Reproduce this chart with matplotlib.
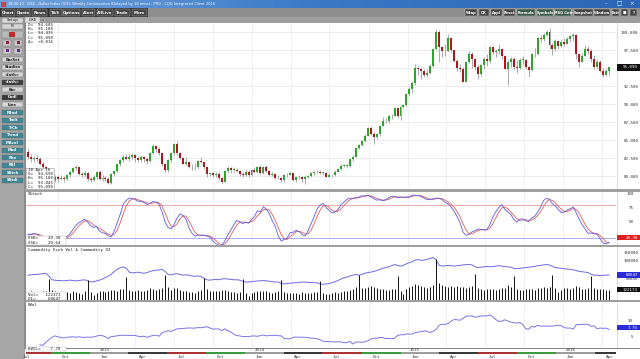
import numpy as np
import pandas as pd
import matplotlib
matplotlib.use("Agg")
import matplotlib.pyplot as plt
from matplotlib.patches import Rectangle
from matplotlib.colors import LinearSegmentedColormap
import matplotlib.transforms as mtrans

W, H = 640, 359
MONO = "DejaVu Sans Mono"

# ---------------- data (weekly bars, Monday labels) ----------------
start_monday = "2012-07-23"
first_open = 83.4

closes_2012 = [82.7, 82.4, 82.5, 82.3, 81.7, 81.2, 80.2, 79.0, 79.4, 79.9, 79.6, 79.7, 79.6, 80.1, 80.6, 81.1,
               81.2, 80.3, 80.1, 80.4, 79.6, 79.5, 79.8]
closes_2013 = [80.5, 79.6, 79.7, 79.6, 79.0, 80.3, 80.7, 81.6, 82.2, 82.7, 82.4, 82.6, 82.9, 82.5, 82.2, 82.6,
               82.3, 82.1, 83.2, 84.2, 83.7, 83.2, 81.6, 80.8, 82.2, 83.2, 84.5, 83.2, 82.5, 81.7, 82.0, 81.3,
               81.2, 81.3, 82.1, 82.0, 81.3, 80.3, 80.4, 80.1, 80.3, 79.7, 79.2, 80.7, 81.1, 80.9, 80.9, 80.7,
               80.3, 80.2, 80.6, 80.1]
closes_2014 = [80.8, 80.6, 81.2, 80.4, 81.3, 80.7, 80.2, 80.3, 79.7, 79.7, 79.4, 80.1, 80.2, 80.4, 79.4, 79.8,
               79.8, 79.6, 79.9, 80.0, 80.4, 80.5, 80.6, 80.4, 80.4, 79.9, 80.2, 80.1, 80.6, 81.0, 81.4, 81.4,
               81.4, 82.3, 82.7, 83.9, 84.3, 84.8, 85.6, 86.7, 85.9, 85.4, 85.8, 87.0, 87.6, 87.6, 88.3, 88.4,
               89.4, 88.3, 89.6, 89.8]
closes_2015 = [91.4, 92.1, 92.9, 95.0, 94.8, 94.6, 94.0, 94.3, 95.3, 97.6, 100.0, 97.9, 97.3, 97.4, 99.2, 97.5,
               96.0, 95.0, 94.8, 93.1, 95.9, 96.9, 96.2, 95.2, 94.1, 95.4, 96.2, 96.0, 97.9, 97.2, 97.3, 97.6,
               96.6, 94.9, 95.9, 96.2, 95.1, 95.0, 96.1, 96.1, 95.2, 94.7, 96.9, 96.9, 99.2, 99.0, 99.6, 100.0,
               98.2, 97.6, 98.7, 98.0]
closes_2016 = [98.6, 98.4, 99.0, 99.5, 99.6, 97.0, 95.9, 96.6, 97.6, 97.3, 96.2, 95.1, 95.9, 94.6, 94.0, 94.6,
               95.09]

highs_2012 = [83.8, 83.0, 82.8, 82.9, 82.6, 81.9, 81.4, 80.5, 79.6, 80.2, 80.1, 80.1, 80.0, 80.3, 80.9, 81.3,
              81.5, 81.3, 80.6, 80.7, 80.5, 79.9, 80.2]
highs_2013 = [80.7, 80.9, 80.1, 80.0, 79.8, 80.4, 80.9, 81.7, 82.4, 83.0, 83.0, 83.0, 83.2, 83.1, 82.8, 82.9,
              82.8, 82.6, 83.4, 84.5, 84.3, 84.0, 83.4, 81.7, 82.4, 83.3, 84.6, 84.8, 83.4, 82.6, 82.6, 82.1,
              81.6, 81.8, 82.2, 82.6, 82.0, 81.4, 80.6, 80.6, 80.6, 80.5, 79.8, 80.8, 81.4, 81.2, 81.3, 81.1,
              80.9, 80.5, 80.9, 80.8]
highs_2014 = [81.0, 81.2, 81.3, 81.5, 81.4, 81.5, 80.8, 80.6, 80.4, 80.2, 79.8, 80.3, 80.4, 80.6, 80.5, 79.9,
              80.1, 80.0, 80.1, 80.2, 80.5, 80.7, 80.9, 80.8, 80.6, 80.5, 80.4, 80.3, 80.8, 81.1, 81.6, 81.7,
              81.7, 82.4, 82.9, 84.0, 84.5, 85.0, 85.9, 86.8, 86.9, 86.1, 86.0, 87.1, 88.2, 88.1, 88.5, 88.6,
              89.6, 89.6, 89.7, 90.0]
highs_2015 = [91.5, 92.3, 93.2, 95.5, 95.3, 95.0, 94.9, 94.8, 95.5, 97.8, 100.4, 100.3, 98.0, 98.4, 99.7, 99.3,
              97.5, 96.2, 95.5, 95.1, 96.0, 97.3, 97.2, 96.4, 95.5, 95.6, 96.5, 97.0, 98.0, 98.1, 97.7, 98.3,
              97.7, 96.8, 96.1, 96.5, 96.5, 96.1, 96.4, 96.7, 96.3, 95.3, 97.1, 97.8, 99.3, 99.6, 99.9, 100.3,
              100.5, 98.5, 99.0, 98.8]
highs_2016 = [99.0, 99.1, 99.3, 99.6, 99.9, 99.7, 97.1, 97.1, 98.2, 98.0, 97.7, 96.8, 96.3, 96.1, 95.0, 94.9,
              95.18]

lows_2012 = [82.3, 81.9, 82.0, 82.0, 81.5, 80.9, 79.9, 78.6, 78.8, 79.2, 79.2, 79.4, 79.2, 79.4, 79.9, 80.4,
             80.8, 80.1, 79.8, 79.9, 79.3, 79.2, 79.3]
lows_2013 = [79.6, 79.4, 79.3, 79.3, 78.9, 78.9, 80.0, 80.5, 81.4, 82.0, 82.2, 82.1, 82.4, 82.0, 81.9, 81.9,
             82.0, 81.6, 81.9, 83.0, 83.3, 82.9, 81.4, 80.5, 80.6, 81.9, 82.9, 82.9, 82.3, 81.6, 81.5, 81.1,
             80.9, 80.9, 81.0, 81.8, 81.0, 79.9, 80.0, 79.9, 79.9, 79.5, 79.0, 79.1, 80.4, 80.4, 80.6, 80.5,
             80.0, 79.8, 80.0, 79.9]
lows_2014 = [80.0, 80.4, 80.4, 80.3, 80.3, 80.5, 80.0, 80.0, 79.6, 79.6, 79.2, 79.2, 79.9, 80.1, 79.3, 79.2,
             79.6, 79.2, 78.9, 79.7, 79.8, 80.2, 80.4, 80.3, 80.1, 79.8, 79.8, 79.9, 80.0, 80.5, 80.9, 81.2,
             81.1, 81.3, 82.1, 82.6, 83.7, 84.1, 84.7, 85.5, 85.7, 84.5, 85.2, 85.6, 86.9, 87.3, 87.4, 87.9,
             88.3, 88.1, 87.8, 89.5]
lows_2015 = [89.7, 91.1, 91.6, 92.7, 94.0, 93.5, 93.8, 93.7, 94.2, 95.2, 97.5, 95.8, 96.5, 96.7, 97.2, 97.2,
             95.8, 94.6, 94.4, 93.0, 93.0, 95.7, 95.0, 94.7, 93.5, 93.9, 94.9, 95.3, 95.7, 96.9, 96.5, 97.0,
             96.3, 94.8, 92.6, 95.2, 94.9, 94.3, 94.9, 95.6, 94.9, 93.8, 94.6, 96.5, 96.8, 98.6, 98.8, 99.4,
             97.7, 96.8, 97.3, 97.6]
lows_2016 = [97.9, 98.0, 98.3, 98.6, 98.8, 96.3, 95.2, 95.8, 96.6, 96.9, 95.8, 94.8, 94.9, 94.4, 93.8, 93.9,
             93.85]

volume_k = [95, 110, 85, 80, 90, 100, 105, 240, 120, 100, 95, 90, 88, 92, 85, 100, 95, 80, 70, 105, 230, 90, 55,
            85, 110, 100, 95, 105, 120, 115, 110, 125, 130, 270, 120, 110, 105, 115, 110, 100, 120, 140, 130,
            115, 125, 140, 290, 150, 120, 135, 140, 120, 105, 100, 95, 90, 85, 110, 120, 260, 130, 110, 100,
            105, 110, 120, 115, 100, 95, 90, 85, 95, 240, 80, 50,
            80, 95, 100, 110, 105, 100, 90, 85, 95, 100, 230, 95, 85, 80, 85, 80, 75, 90, 85, 80, 85, 90, 95,
            220, 85, 70, 75, 80, 90, 85, 95, 100, 105, 120, 130, 150, 290, 140, 145, 150, 160, 150, 135, 125,
            130, 120, 115, 125, 130, 280, 110, 70,
            130, 150, 160, 190, 170, 160, 150, 140, 150, 180, 480, 200, 170, 160, 150, 165, 150, 160, 155, 150,
            140, 150, 160, 300, 145, 130, 120, 125, 130, 125, 120, 130, 140, 135, 170, 150, 280, 130, 120, 115,
            125, 130, 125, 120, 135, 140, 150, 145, 150, 290, 140, 90,
            120, 135, 140, 130, 145, 160, 150, 130, 125, 135, 280, 140, 130, 125, 130, 120, 122.173]

oi_k = [60, 61, 62, 62, 63, 64, 65, 58, 48, 47, 46, 46, 45, 46, 47, 46, 45, 46, 47, 48, 45, 42, 43,
        45, 47, 50, 54, 58, 63, 70, 76, 80, 82, 78, 68, 66, 67, 68, 66, 65, 67, 70, 72, 73, 74, 75, 70, 62, 61,
        63, 64, 62, 60, 61, 60, 58, 57, 58, 57, 52, 48, 47, 48, 49, 48, 50, 51, 50, 49, 48, 48, 47, 44, 42, 42,
        43, 44, 45, 45, 46, 45, 44, 43, 42, 42, 38, 37, 38, 39, 40, 40, 41, 42, 42, 41, 41, 40, 40, 37, 36, 37,
        38, 40, 43, 46, 50, 53, 55, 58, 60, 62, 60, 62, 65, 67, 68, 70, 72, 75, 78, 80, 82, 85, 88, 86, 84, 86,
        90, 93, 96, 100, 101, 99, 100, 102, 104, 107, 100, 86, 84, 85, 86, 85, 84, 85, 86, 87, 88, 88, 87, 82,
        80, 81, 82, 83, 82, 83, 84, 85, 84, 83, 82, 81, 78, 77, 78, 79, 80, 81, 82, 83, 85, 86, 87, 88, 87, 83,
        80, 79,
        78, 77, 76, 75, 74, 72, 70, 69, 68, 67, 62, 60, 60, 59, 60, 60, 60.647]

# readouts shown in the reference
last_ssk, last_ssd, last_hvol = 20.30, 20.64, 7.70
main_ticks = [80.0, 82.5, 85.0, 87.5, 90.0, 92.5, 97.5, 100.0]
stoch_ticks = [50, 75, 100]
hvol_ticks = [5, 10]
quarter_names = {1: "Jan", 4: "Apr", 7: "Jul", 10: "Oct"}

closes = closes_2012 + closes_2013 + closes_2014 + closes_2015 + closes_2016
highs = highs_2012 + highs_2013 + highs_2014 + highs_2015 + highs_2016
lows = lows_2012 + lows_2013 + lows_2014 + lows_2015 + lows_2016
n = len(closes)
assert n == len(highs) == len(lows) == len(volume_k) == len(oi_k) == 196

c = np.array(closes)
o = np.concatenate([[first_open], c[:-1]])
h = np.maximum(np.array(highs), np.maximum(o, c))
l = np.minimum(np.array(lows), np.minimum(o, c))
idx = np.arange(n)
dates = pd.date_range(start_monday, periods=n, freq="W-MON")
t0 = dates[0]

# indicators computed from the bars
cs, hs, ls = pd.Series(c), pd.Series(h), pd.Series(l)
hh = hs.rolling(14, min_periods=1).max()
ll = ls.rolling(14, min_periods=1).min()
fast = 100 * (cs - ll) / (hh - ll)
ssk = fast.rolling(5, min_periods=1).mean()
ssd = ssk.rolling(3, min_periods=1).mean()
lr = np.log(cs).diff()
hvol = lr.rolling(20, min_periods=4).std() * np.sqrt(52) * 100

# ---------------- figure ----------------
fig = plt.figure(figsize=(W / 100, H / 100), dpi=100)
bg = fig.add_axes([0, 0, 1, 1], zorder=0)
bg.axis("off")


def box(ax, x0, y0, x1, y1, fc, ec="none", lw=0, z=1):
    ax.add_patch(Rectangle((x0, y0), x1 - x0, y1 - y0, facecolor=fc, edgecolor=ec, linewidth=lw, zorder=z))


def txt(ax, x, y, s, size=3.1, color="#1a1a1a", ha="left", va="center", fam=MONO, z=5, weight="normal"):
    ax.text(x, y, s, fontsize=size, color=color, ha=ha, va=va, family=fam, zorder=z, fontweight=weight)


box(bg, 0, 0, W, H, "#a6a6a6", z=0)
grad = LinearSegmentedColormap.from_list("g", ["#6fa3dd", "#3a78c6", "#2c66b5"])
bg.imshow(np.linspace(0, 1, 100).reshape(1, -1), extent=(0, W, 8, 0), cmap=grad, aspect="auto", zorder=1)
box(bg, 1, 1.5, 6, 6.5, "#d04040", z=2)
txt(bg, 8, 4, "18:36:12   DXE - Dollar Index (ICE), Weekly Continuation (Delayed by 10 mins) - PRO - CQG Integrated Client 2016",
    size=2.6, color="white", fam="DejaVu Sans")
for xx, s in [(606, "\u2013"), (619, "\u25a1"), (632, "\u00d7")]:
    txt(bg, xx, 3.8, s, size=4, color="white", ha="center", fam="DejaVu Sans")

# toolbar
box(bg, 0, 8, W, 17, "#8e8e8e", z=1)
box(bg, 0, 8, 148, 17, "#2f2f2f", z=1)
left_btns = [("Chart", 2, 15), ("Quote", 17, 30), ("News", 32, 47), ("T&S", 50, 62), ("Options", 63, 80),
             ("Alert", 82, 95), ("AllLive", 97, 113), ("Trade", 115, 130), ("More", 132, 147)]
for s, a, b in left_btns:
    box(bg, a, 9.3, b, 15.8, "#454545", ec="#b8b8b8", lw=0.3, z=2)
    txt(bg, (a + b) / 2, 12.6, s, size=2.9, color="white", ha="center", fam="DejaVu Sans", weight="bold")
right_btns = [("Wrap", 465, 477), ("OK", 479, 489), ("Appl", 491, 502), ("Reset", 504, 515), ("Formula", 517, 535),
              ("Symbols", 537, 553), ("MSG Cntr", 555, 571), ("Snapshot", 574, 593), ("Window", 594, 610),
              ("Exit", 612, 619), ("\u25a0", 621, 628), ("?", 630, 637)]
for s, a, b in right_btns:
    fc = "#3c5a4a" if s in ("Formula", "Symbols", "MSG Cntr") else "#454545"
    box(bg, a, 9.3, b, 15.8, fc, ec="#c8c8c8", lw=0.3, z=2)
    txt(bg, (a + b) / 2, 12.6, s, size=2.6, color="white", ha="center", fam="DejaVu Sans", weight="bold")

# tab row
box(bg, 0, 17, W, 23, "#9d9d9d", z=1)
box(bg, 2, 17.6, 23, 22.6, "#d9d9d9", ec="#7a7a7a", lw=0.3, z=2)
txt(bg, 12.5, 20.1, "Setup", size=2.9, ha="center", fam="DejaVu Sans")
box(bg, 25, 17.2, 40, 23, "#dcdcdc", ec="#7a7a7a", lw=0.3, z=2)
txt(bg, 32.5, 20.1, "DXE", size=2.9, ha="center", fam="DejaVu Sans")
box(bg, 41, 18.2, 46, 22.2, "#b4b4b4", ec="#7a7a7a", lw=0.3, z=2)
txt(bg, 43.5, 20.1, "x", size=2.8, ha="center", fam="DejaVu Sans")

# left button column
box(bg, 2, 23.5, 23, 28.5, "#d4d4d4", ec="#7a7a7a", lw=0.3, z=2)
txt(bg, 12.5, 26, "IB", size=2.8, ha="center", fam="DejaVu Sans")
box(bg, 2, 31, 23, 38, "#b9b9b9", ec="#7a7a7a", lw=0.3, z=2)
box(bg, 9, 32.2, 15, 36.8, "#c02828", z=3)
for yy, col in [(40, "#8a1e3a"), (48, "#6a2a8a")]:
    for a in (3, 14):
        box(bg, a, yy, a + 8, yy + 5.5, "#c9c9c9", ec="#707070", lw=0.3, z=2)
        box(bg, a + 2.5, yy + 1.2, a + 5.5, yy + 4.3, col, z=3)
side = [("BarSet", 57, "light"), ("Studies", 64.5, "light"), ("<Inth>", 72, "light"), ("<Inth>", 79.5, "dark"),
        ("Bar", 87, "light"), ("Cndl", 94.5, "dark"), ("Line", 102, "light"),
        ("FBnd", 110, "teal"), ("TmIt", 117.5, "teal"), ("TrCh", 125, "teal"), ("Trend", 132.5, "teal"),
        ("MAvol", 140, "teal"), ("Mod", 147.5, "teal"), ("Pbo", 155, "teal"), ("RSI", 162.5, "teal"),
        ("SStch", 170, "teal"), ("SStdi", 177.5, "teal")]
styles = {"light": ("#d6d6d6", "#1a1a1a"), "dark": ("#3a3a3a", "#ffffff"), "teal": ("#3f8797", "#ffffff")}
for s, yy, st in side:
    fc, tc = styles[st]
    box(bg, 2, yy, 23, yy + 5.2, fc, ec="#6a6a6a", lw=0.3, z=2)
    txt(bg, 12.5, yy + 2.6, s, size=2.7, color=tc, ha="center", fam="DejaVu Sans", weight="bold")

# chart window
box(bg, 25, 23, W, 348, "white", z=1)
box(bg, 24, 23, 26, 349, "#8c8c8c", z=2)
for a, b in [(189, 192), (245, 247), (300, 302)]:
    box(bg, 25, a, W, b, "#9f9f9f", z=2)
box(bg, 25, 348, W, 349, "#8a8a8a", z=2)
box(bg, 25, 349, W, H, "white", z=1)
bg.plot([616.5, 616.5], [23, 348], color="#9a9a9a", lw=0.5, ls=(0, (1, 1)), zorder=2)
bg.set_xlim(0, W)
bg.set_ylim(H, 0)

# ---------------- data axes ----------------
PX0, PX1 = 26, 616
X0 = 28.0
DX = 2.98
xlim = ((PX0 - X0) / DX, (PX1 - X0) / DX)


def px_axes(y0, y1, ylim, z=1):
    ax = fig.add_axes([PX0 / W, 1 - y1 / H, (PX1 - PX0) / W, (y1 - y0) / H], zorder=z)
    ax.patch.set_alpha(0)
    for s in ax.spines.values():
        s.set_visible(False)
    ax.set_xlim(*xlim)
    ax.set_ylim(*ylim)
    ax.tick_params(left=False, bottom=False, right=False, labelleft=False, labelbottom=False)
    return ax


def right_labels(ax, ticks, labels, right_px):
    ax.yaxis.tick_right()
    ax.set_yticks(ticks)
    ax.set_yticklabels(labels, fontsize=3.0, family=MONO, color="#303030")
    ax.tick_params(axis="y", right=False, labelright=True, length=0, pad=(right_px - PX1) * 0.72)
    for t in ax.get_yticklabels():
        t.set_ha("right")


def value_box(ax, value, label, fc, half_px=2.8, tc="white"):
    y0, y1 = ax.get_ylim()
    hpx = ax.get_position().height * H
    upp = (y1 - y0) / hpx
    tr = mtrans.blended_transform_factory(ax.transAxes, ax.transData)
    wfrac = (W - PX1 - 0.5) / (PX1 - PX0)
    ax.add_patch(Rectangle((1.0 + 0.6 / (PX1 - PX0), value - half_px * upp), wfrac, 2 * half_px * upp,
                           transform=tr, facecolor=fc, edgecolor="none", clip_on=False, zorder=6))
    ax.text(1.0 + (W - PX1 - 2) / (PX1 - PX0), value, label, transform=tr, fontsize=3.0, family=MONO,
            color=tc, ha="right", va="center", zorder=7, clip_on=False)


quarters = pd.date_range("2012-07-01", "2016-07-01", freq="QS")
qpos = np.array([(q - t0).days / 7.0 for q in quarters])

# main price panel
axm = px_axes(23, 189, (80 - 13 / 7.2, 100 + 9 / 7.2))
for v in np.arange(80, 100.1, 2.5):
    axm.axhline(v, color="#e3e3e3", lw=0.5, zorder=0)
up = c >= o
body_lo = np.minimum(o, c)
body_h = np.maximum(np.abs(c - o), 0.09)
axm.vlines(idx, l, h, color="#8a8a8a", lw=0.5, zorder=2)
axm.bar(idx[up], body_h[up], bottom=body_lo[up], width=0.66, color="#2ea32e", lw=0, zorder=3)
axm.bar(idx[~up], body_h[~up], bottom=body_lo[~up], width=0.66, color="#b0141c", lw=0, zorder=3)
right_labels(axm, main_ticks, ["%.3f" % v for v in main_ticks], 638.5)
value_box(axm, c[-1], "%.3f" % c[-1], "#101010", half_px=3.2)

# stochastic panel
stoch_upp = 80 / (238 - 193.5)
axs = px_axes(192, 245, (100 - (245 - 193.5) * stoch_upp, 100 + 1.5 * stoch_upp))
axs.axhline(80, color="#f08a8a", lw=0.5, zorder=1)
axs.axhline(20, color="#8a8af0", lw=0.5, zorder=1)
axs.plot(idx, ssd, color="#e05a5a", lw=0.6, zorder=3)
axs.plot(idx, ssk, color="#5a5ae6", lw=0.6, zorder=4)
right_labels(axs, stoch_ticks, [str(v) for v in stoch_ticks], 634)
value_box(axs, last_ssk, "%.2f" % last_ssk, "#e02020", half_px=2.6)

# volume / open interest panel
oi_upp = 50 / 19.0
axo = px_axes(247, 300, (50 - 21 * oi_upp, 100 + 13 * oi_upp))
axv = px_axes(247, 300, (0, 620), z=1)
axv.vlines(idx, 0, volume_k, color="#111111", lw=0.7, zorder=2)
axo.plot(idx, oi_k, color="#6a6ae6", lw=0.7, zorder=3)
right_labels(axo, [50, 100, 121], ["50000", "100000", "150000"], 638.5)
value_box(axo, oi_k[-1], "%d" % round(oi_k[-1] * 1000), "#2a2ad8", half_px=2.6)
value_box(axv, volume_k[-1], "%d" % round(volume_k[-1] * 1000), "#101010", half_px=2.6)

# historical volatility panel
hv_upp = 5 / (336.7 - 320)
axh = px_axes(302, 348, (5 - (348 - 336.7) * hv_upp, 10 + (320 - 302) * hv_upp))
axh.plot(idx, hvol, color="#7676e8", lw=0.7, zorder=3)
right_labels(axh, hvol_ticks, [str(v) for v in hvol_ticks], 633)
value_box(axh, last_hvol, "%.2f" % last_hvol, "#2a2ad8", half_px=2.6)

for ax in (axm, axs, axo, axh):
    for q in qpos:
        ax.axvline(q, color="#cfcfcf", lw=0.5, ls=(0, (1, 1.5)), zorder=0)

# time axis strip
axt = px_axes(349, 359, (359, 349), z=2)
qcol = {1: "#9c9c9c", 4: "#3a3a3a", 7: "#a83434", 10: "#3a9c3a"}
for k in range(len(quarters) - 1):
    a, b = qpos[k] - 2.35, qpos[k + 1] - 2.35
    axt.add_patch(Rectangle((a, 352.2), b - a, 2.0, facecolor=qcol[quarters[k].month], edgecolor="none"))
    if xlim[0] < qpos[k] + 2.5 < xlim[1] - 1:
        axt.text(qpos[k] + 2.5, 356.6, quarter_names[quarters[k].month], fontsize=3.0, family=MONO,
                 color="#303030", ha="center", va="center")
        if quarters[k].month == 1:
            axt.text(qpos[k] + 2.5, 349.8, str(quarters[k].year), fontsize=3.0, family=MONO,
                     color="#303030", ha="center", va="center")

# ---------------- overlay legends ----------------
top = fig.add_axes([0, 0, 1, 1], zorder=5)
top.patch.set_alpha(0)
top.axis("off")
top.set_xlim(0, W)
top.set_ylim(H, 0)
for k, s in enumerate(["O=  94.605", "H=  95.180", "L=  94.435", "C=  95.090", "\u0394=  +0.016"]):
    txt(top, 27.5, 25.2 + 4.15 * k, s, size=3.0)
box(top, 26, 167.5, 54, 189, "white", ec="#9a9a9a", lw=0.4, z=4)
for k, s in enumerate(["18 Apr 16", "O=  94.690", "H=  95.180", "L=  93.845", "C=  95.090"]):
    txt(top, 27.5, 170 + 4.2 * k, s, size=3.0)
txt(top, 27.5, 194.2, "SStoch", size=3.0)
box(top, 26, 235.5, 66, 245, "white", ec="#b0b0b0", lw=0.3, z=4)
txt(top, 27.5, 238.3, "SSK=    %.2f" % last_ssk, size=3.0)
txt(top, 27.5, 242.5, "SSD=    %.2f" % last_ssd, size=3.0)
txt(top, 27.5, 250.5, "Commodity Exch Vol & Commodity OI", size=3.0)
box(top, 26, 292, 66, 300, "white", ec="#b0b0b0", lw=0.3, z=4)
txt(top, 27.5, 294.8, "Vol=   %d" % round(volume_k[-1] * 1000), size=3.0)
txt(top, 27.5, 298.6, "OI=     %d" % round(oi_k[-1] * 1000), size=3.0)
txt(top, 27.5, 305.5, "HVol", size=3.0)
box(top, 26, 346.5, 66, 351, "white", ec="#b0b0b0", lw=0.3, z=4)
txt(top, 27.5, 348.8, "HVOL=    %.2f" % last_hvol, size=3.0)

fig.savefig("out.png", dpi=100)
